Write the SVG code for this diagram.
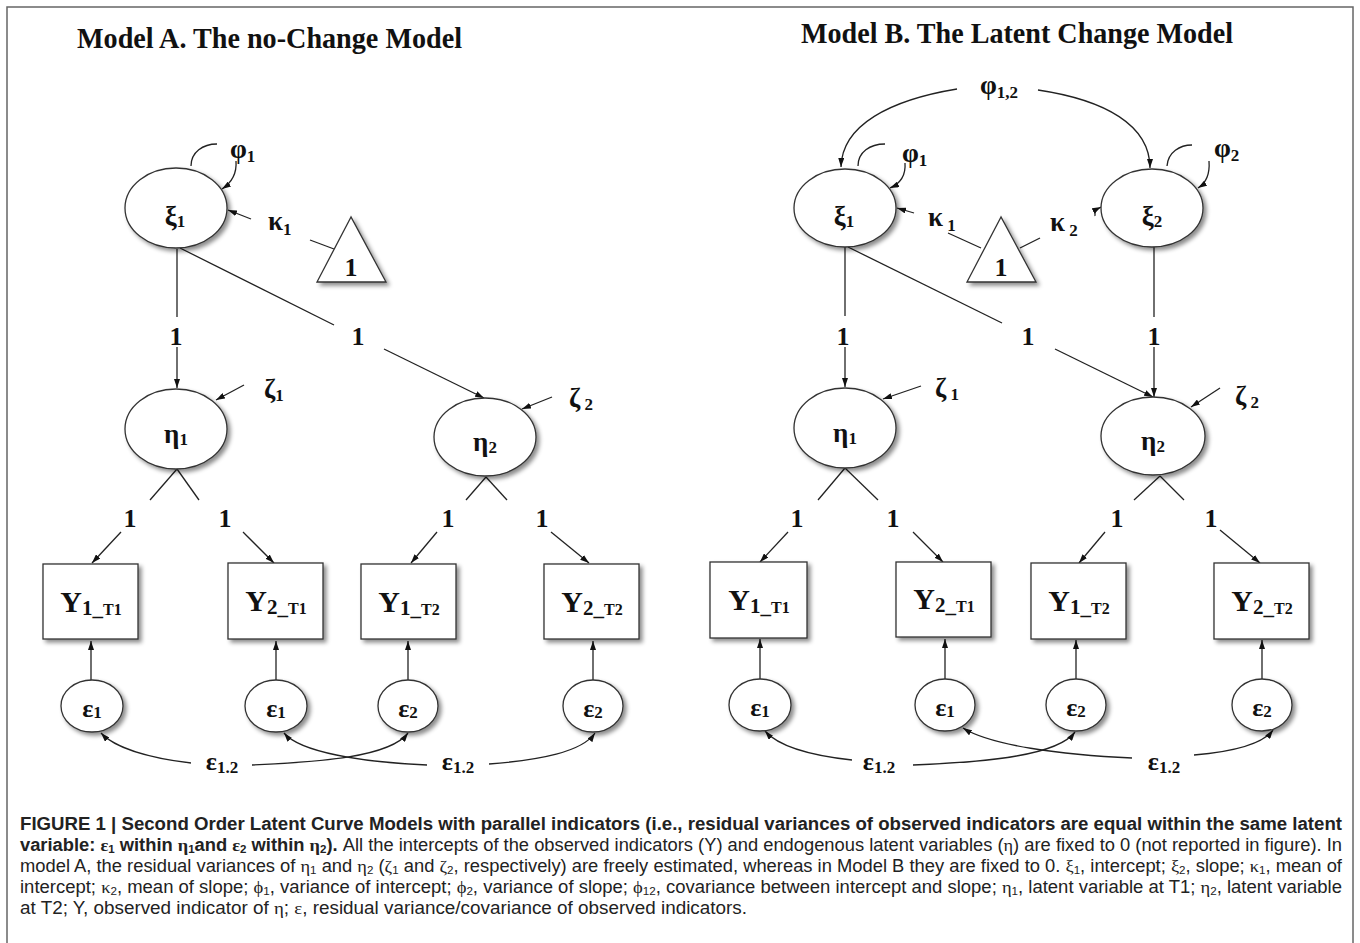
<svg xmlns="http://www.w3.org/2000/svg" width="1360" height="943" viewBox="0 0 1360 943">
<style>
.t{font-family:"Liberation Serif","DejaVu Serif",serif;font-weight:bold;fill:#111}
.g{font-family:"Liberation Serif","DejaVu Serif",serif;font-weight:bold;font-size:27px;fill:#111}
.e{font-family:"Liberation Serif","DejaVu Serif",serif;font-weight:bold;font-size:26px;fill:#111}
.s{font-size:17px}
.one{font-family:"Liberation Serif","DejaVu Serif",serif;font-weight:bold;font-size:26px;fill:#111;text-anchor:middle}
.nd{fill:#fff;stroke:#333;stroke-width:1.3;filter:url(#sh)}
.ln{fill:none;stroke:#222;stroke-width:1.3}
.ar{fill:none;stroke:#222;stroke-width:1.3;marker-end:url(#ah)}
.cap{font-family:"Liberation Sans",Arial,sans-serif;font-size:17.5px;fill:#222}
.cs{font-size:11px}
.gr{font-family:"Liberation Serif","DejaVu Serif",serif}
</style>
<defs>
<marker id="ah" viewBox="0 0 9 6" refX="9" refY="3" markerWidth="9" markerHeight="6" markerUnits="userSpaceOnUse" orient="auto"><path d="M0,0 L9,3 L0,6 z" fill="#111"/></marker>
<filter id="sh" x="-20%" y="-20%" width="150%" height="150%"><feDropShadow dx="3" dy="3" stdDeviation="2" flood-color="#000" flood-opacity="0.45"/></filter>
</defs>
<rect x="0" y="0" width="1360" height="943" fill="#fff"/>
<rect x="7" y="7" width="1346" height="960" fill="none" stroke="#666" stroke-width="1.5"/>

<text class="t" x="77" y="48" font-size="30" textLength="385" lengthAdjust="spacingAndGlyphs">Model A. The no-Change Model</text>
<text class="t" x="801" y="43" font-size="30" textLength="432" lengthAdjust="spacingAndGlyphs">Model B. The Latent Change Model</text>

<g id="connectors">
<!-- Model A -->
<path class="ln" d="M191,166 C191,152 203,144 217,144"/>
<path class="ar" d="M236,161 C237,174 231,183 222,189"/>
<path class="ar" d="M251,219 L228,210"/>
<path class="ln" d="M310,240 L334,249"/>
<path class="ln" d="M177,249 L177,317"/>
<path class="ar" d="M177,347 L177,388"/>
<path class="ln" d="M180,248 L334,325"/>
<path class="ar" d="M384,349 L484,398"/>
<path class="ar" d="M244,385 L216,400"/>
<path class="ar" d="M552,397 L522,409"/>
<path class="ln" d="M177,469 L150,500"/>
<path class="ln" d="M177,469 L199,500"/>
<path class="ln" d="M486,477 L466,500"/>
<path class="ln" d="M486,477 L507,500"/>
<path class="ar" d="M121,532 L92,563"/>
<path class="ar" d="M243,532 L274,563"/>
<path class="ar" d="M437,532 L411,563"/>
<path class="ar" d="M551,532 L589,563"/>
<path class="ar" d="M91,680 L91,641"/>
<path class="ar" d="M276,680 L276,641"/>
<path class="ar" d="M408,680 L408,641"/>
<path class="ar" d="M593,680 L593,641"/>
<path class="ar" d="M191,763 C150,758 115,748 101,733"/>
<path class="ar" d="M252,765 C320,762 390,757 408,733"/>
<path class="ar" d="M427,765 C360,762 300,752 284,733"/>
<path class="ar" d="M489,764 C540,760 582,752 595,733"/>
<!-- Model B -->
<path class="ar" d="M957,89 C890,100 842,125 841,167"/>
<path class="ar" d="M1038,90 C1105,100 1150,125 1150,168"/>
<path class="ln" d="M858,166 C858,152 870,144 885,144"/>
<path class="ar" d="M905,163 C906,176 899,184 890,188"/>
<path class="ln" d="M1167,166 C1168,152 1180,145 1192,145"/>
<path class="ar" d="M1209,161 C1210,174 1206,183 1198,188"/>
<path class="ar" d="M914,213 L897,208"/>
<path class="ln" d="M948,233 L981,248"/>
<path class="ln" d="M1020,248 L1040,238"/>
<path class="ar" d="M1095,216 C1094,212 1097,209 1101,207"/>
<path class="ln" d="M845,247 L845,316"/>
<path class="ar" d="M845,347 L845,387"/>
<path class="ln" d="M848,247 L1002,323"/>
<path class="ar" d="M1055,349 L1153,397"/>
<path class="ln" d="M1154,247 L1154,317"/>
<path class="ar" d="M1154,347 L1154,397"/>
<path class="ar" d="M921,386 L883,399"/>
<path class="ar" d="M1220,388 L1191,407"/>
<path class="ln" d="M845,468 L818,500"/>
<path class="ln" d="M845,468 L878,500"/>
<path class="ln" d="M1160,476 L1134,500"/>
<path class="ln" d="M1160,476 L1184,500"/>
<path class="ar" d="M788,532 L760,562"/>
<path class="ar" d="M913,532 L943,562"/>
<path class="ar" d="M1105,532 L1079,563"/>
<path class="ar" d="M1220,530 L1260,563"/>
<path class="ar" d="M760,679 L760,639"/>
<path class="ar" d="M945,679 L945,639"/>
<path class="ar" d="M1076,679 L1076,640"/>
<path class="ar" d="M1262,679 L1262,640"/>
<path class="ar" d="M852,760 C815,756 780,748 765,731"/>
<path class="ar" d="M913,765 C990,762 1058,755 1075,732"/>
<path class="ar" d="M1132,758 C1060,755 990,745 963,728"/>
<path class="ar" d="M1194,755 C1230,752 1262,745 1273,730"/>

<!-- edge labels -->
<text class="g" x="230" y="158">φ<tspan class="s" dy="4">1</tspan></text>
<text class="g" x="268" y="230">κ<tspan class="s" dy="5">1</tspan></text>
<text class="one" x="176" y="345">1</text>
<text class="one" x="358" y="345">1</text>
<text class="g" x="264" y="398">ζ<tspan class="s" dy="3">1</tspan></text>
<text class="g" x="569" y="407">ζ<tspan class="s" dy="3"> 2</tspan></text>
<text class="one" x="130" y="527">1</text>
<text class="one" x="225" y="527">1</text>
<text class="one" x="448" y="527">1</text>
<text class="one" x="542" y="527">1</text>
<text class="e" x="222" y="770" text-anchor="middle">ε<tspan class="s" dy="3">1.2</tspan></text>
<text class="e" x="458" y="770" text-anchor="middle">ε<tspan class="s" dy="3">1.2</tspan></text>

<text class="g" x="999" y="94" text-anchor="middle">φ<tspan class="s" dy="4">1,2</tspan></text>
<text class="g" x="902" y="162">φ<tspan class="s" dy="4">1</tspan></text>
<text class="g" x="1214" y="157">φ<tspan class="s" dy="4">2</tspan></text>
<text class="g" x="928" y="226">κ<tspan class="s" dy="5"> 1</tspan></text>
<text class="g" x="1050" y="231">κ<tspan class="s" dy="5"> 2</tspan></text>
<text class="one" x="843" y="345">1</text>
<text class="one" x="1028" y="345">1</text>
<text class="one" x="1154" y="345">1</text>
<text class="g" x="935" y="397">ζ<tspan class="s" dy="3"> 1</tspan></text>
<text class="g" x="1235" y="405">ζ<tspan class="s" dy="3"> 2</tspan></text>
<text class="one" x="797" y="527">1</text>
<text class="one" x="893" y="527">1</text>
<text class="one" x="1117" y="527">1</text>
<text class="one" x="1211" y="527">1</text>
<text class="e" x="879" y="770" text-anchor="middle">ε<tspan class="s" dy="3">1.2</tspan></text>
<text class="e" x="1164" y="770" text-anchor="middle">ε<tspan class="s" dy="3">1.2</tspan></text>
</g>

<!-- Model A nodes -->
<g id="A_xi1"><ellipse class="nd" cx="176" cy="208" rx="51" ry="40"/><text class="g" x="175" y="225" text-anchor="middle">ξ<tspan class="s" dy="2">1</tspan></text></g>
<g id="A_const"><polygon class="nd" points="351,217 317,282 386,282"/><text class="one" x="351" y="276">1</text></g>
<g id="A_eta1"><ellipse class="nd" cx="176" cy="429" rx="51" ry="40"/><text class="g" x="176" y="443" text-anchor="middle">η<tspan class="s" dy="2">1</tspan></text></g>
<g id="A_eta2"><ellipse class="nd" cx="485" cy="437" rx="51" ry="39"/><text class="g" x="485" y="451" text-anchor="middle">η<tspan class="s" dy="2">2</tspan></text></g>
<g id="A_Y1T1"><rect class="nd" x="43" y="564" width="95" height="75"/><text class="t" x="91" y="612" font-size="30" text-anchor="middle">Y<tspan dy="3" font-size="21">1_</tspan><tspan font-size="16">T1</tspan></text></g>
<g id="A_Y2T1"><rect class="nd" x="228" y="563" width="95" height="76"/><text class="t" x="276" y="611" font-size="30" text-anchor="middle">Y<tspan dy="3" font-size="21">2_</tspan><tspan font-size="16">T1</tspan></text></g>
<g id="A_Y1T2"><rect class="nd" x="361" y="564" width="95" height="75"/><text class="t" x="409" y="612" font-size="30" text-anchor="middle">Y<tspan dy="3" font-size="21">1_</tspan><tspan font-size="16">T2</tspan></text></g>
<g id="A_Y2T2"><rect class="nd" x="544" y="564" width="95" height="75"/><text class="t" x="592" y="612" font-size="30" text-anchor="middle">Y<tspan dy="3" font-size="21">2_</tspan><tspan font-size="16">T2</tspan></text></g>
<g id="A_e1a"><ellipse class="nd" cx="92" cy="706" rx="31" ry="26"/><text class="e" x="92" y="717" text-anchor="middle">ε<tspan class="s" dy="1">1</tspan></text></g>
<g id="A_e1b"><ellipse class="nd" cx="276" cy="706" rx="31" ry="26"/><text class="e" x="276" y="717" text-anchor="middle">ε<tspan class="s" dy="1">1</tspan></text></g>
<g id="A_e2a"><ellipse class="nd" cx="408" cy="706" rx="30" ry="26"/><text class="e" x="408" y="717" text-anchor="middle">ε<tspan class="s" dy="1">2</tspan></text></g>
<g id="A_e2b"><ellipse class="nd" cx="593" cy="706" rx="30" ry="26"/><text class="e" x="593" y="717" text-anchor="middle">ε<tspan class="s" dy="1">2</tspan></text></g>

<!-- Model B nodes -->
<g id="B_xi1"><ellipse class="nd" cx="845" cy="208" rx="51" ry="39"/><text class="g" x="844" y="225" text-anchor="middle">ξ<tspan class="s" dy="2">1</tspan></text></g>
<g id="B_xi2"><ellipse class="nd" cx="1152" cy="208" rx="51" ry="39"/><text class="g" x="1152" y="225" text-anchor="middle">ξ<tspan class="s" dy="2">2</tspan></text></g>
<g id="B_const"><polygon class="nd" points="1001,217 967,282 1036,282"/><text class="one" x="1001" y="276">1</text></g>
<g id="B_eta1"><ellipse class="nd" cx="845" cy="428" rx="51" ry="40"/><text class="g" x="845" y="442" text-anchor="middle">η<tspan class="s" dy="2">1</tspan></text></g>
<g id="B_eta2"><ellipse class="nd" cx="1153" cy="436" rx="52" ry="39"/><text class="g" x="1153" y="450" text-anchor="middle">η<tspan class="s" dy="2">2</tspan></text></g>
<g id="B_Y1T1"><rect class="nd" x="710" y="562" width="97" height="76"/><text class="t" x="759" y="610" font-size="30" text-anchor="middle">Y<tspan dy="3" font-size="21">1_</tspan><tspan font-size="16">T1</tspan></text></g>
<g id="B_Y2T1"><rect class="nd" x="896" y="562" width="95" height="75"/><text class="t" x="944" y="609" font-size="30" text-anchor="middle">Y<tspan dy="3" font-size="21">2_</tspan><tspan font-size="16">T1</tspan></text></g>
<g id="B_Y1T2"><rect class="nd" x="1031" y="563" width="95" height="76"/><text class="t" x="1079" y="611" font-size="30" text-anchor="middle">Y<tspan dy="3" font-size="21">1_</tspan><tspan font-size="16">T2</tspan></text></g>
<g id="B_Y2T2"><rect class="nd" x="1214" y="563" width="95" height="76"/><text class="t" x="1262" y="611" font-size="30" text-anchor="middle">Y<tspan dy="3" font-size="21">2_</tspan><tspan font-size="16">T2</tspan></text></g>
<g id="B_e1a"><ellipse class="nd" cx="760" cy="705" rx="31" ry="26"/><text class="e" x="760" y="716" text-anchor="middle">ε<tspan class="s" dy="1">1</tspan></text></g>
<g id="B_e1b"><ellipse class="nd" cx="945" cy="705" rx="30" ry="26"/><text class="e" x="945" y="716" text-anchor="middle">ε<tspan class="s" dy="1">1</tspan></text></g>
<g id="B_e2a"><ellipse class="nd" cx="1076" cy="705" rx="30" ry="26"/><text class="e" x="1076" y="716" text-anchor="middle">ε<tspan class="s" dy="1">2</tspan></text></g>
<g id="B_e2b"><ellipse class="nd" cx="1262" cy="705" rx="30" ry="26"/><text class="e" x="1262" y="716" text-anchor="middle">ε<tspan class="s" dy="1">2</tspan></text></g>

<!-- caption -->
<g id="caption">
<text class="cap" x="20" y="830" font-weight="bold" textLength="1322" lengthAdjust="spacingAndGlyphs">FIGURE 1 | Second Order Latent Curve Models with parallel indicators (i.e., residual variances of observed indicators are equal within the same latent</text>
<text class="cap" x="20" y="851" textLength="1322" lengthAdjust="spacingAndGlyphs"><tspan font-weight="bold">variable: <tspan class="gr">ε</tspan><tspan class="cs" baseline-shift="-2">1</tspan> within <tspan class="gr">η</tspan><tspan class="cs" baseline-shift="-2">1</tspan>and <tspan class="gr">ε</tspan><tspan class="cs" baseline-shift="-2">2</tspan> within <tspan class="gr">η</tspan><tspan class="cs" baseline-shift="-2">2</tspan>).</tspan> All the intercepts of the observed indicators (Y) and endogenous latent variables (<tspan class="gr">η</tspan>) are fixed to 0 (not reported in figure). In</text>
<text class="cap" x="20" y="872" textLength="1322" lengthAdjust="spacingAndGlyphs">model A, the residual variances of <tspan class="gr">η</tspan><tspan class="cs" baseline-shift="-2">1</tspan> and <tspan class="gr">η</tspan><tspan class="cs" baseline-shift="-2">2</tspan> (<tspan class="gr">ζ</tspan><tspan class="cs" baseline-shift="-2">1</tspan> and <tspan class="gr">ζ</tspan><tspan class="cs" baseline-shift="-2">2</tspan>, respectively) are freely estimated, whereas in Model B they are fixed to 0. <tspan class="gr">ξ</tspan><tspan class="cs" baseline-shift="-2">1</tspan>, intercept; <tspan class="gr">ξ</tspan><tspan class="cs" baseline-shift="-2">2</tspan>, slope; <tspan class="gr">κ</tspan><tspan class="cs" baseline-shift="-2">1</tspan>, mean of</text>
<text class="cap" x="20" y="893" textLength="1322" lengthAdjust="spacingAndGlyphs">intercept; <tspan class="gr">κ</tspan><tspan class="cs" baseline-shift="-2">2</tspan>, mean of slope; <tspan class="gr">ϕ</tspan><tspan class="cs" baseline-shift="-2">1</tspan>, variance of intercept; <tspan class="gr">ϕ</tspan><tspan class="cs" baseline-shift="-2">2</tspan>, variance of slope; <tspan class="gr">ϕ</tspan><tspan class="cs" baseline-shift="-2">12</tspan>, covariance between intercept and slope; <tspan class="gr">η</tspan><tspan class="cs" baseline-shift="-2">1</tspan>, latent variable at T1; <tspan class="gr">η</tspan><tspan class="cs" baseline-shift="-2">2</tspan>, latent variable</text>
<text class="cap" x="20" y="914" textLength="727" lengthAdjust="spacingAndGlyphs">at T2; Y, observed indicator of <tspan class="gr">η</tspan>; <tspan class="gr">ε</tspan>, residual variance/covariance of observed indicators.</text>
</g>
</svg>
